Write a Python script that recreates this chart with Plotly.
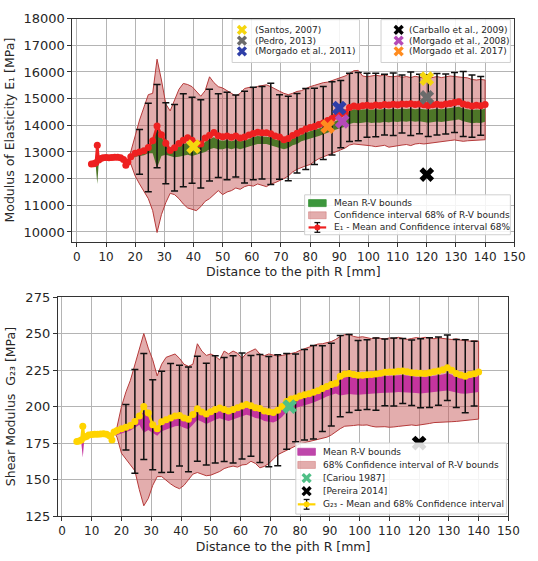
import plotly.graph_objects as go

W, H = 538, 561

# ---------------- data ----------------
X_EARLY = [5.0, 5.8, 6.5, 7.0, 7.5, 8.2, 9.0, 10.0, 11.0, 12.0, 13.0, 14.0, 15.0, 16.0, 16.8, 17.5]
X_MAIN = [18.5, 20.0, 21.5, 23.0, 24.5, 26.0, 27.5, 29.0, 30.5, 32.0,
          33.5, 35.0, 36.5, 38.0, 39.5, 41.0, 42.5, 44.0, 45.5, 47.0,
          48.5, 50.0, 51.5, 53.0, 54.5, 56.0, 57.5, 59.0, 60.5, 62.0,
          63.5, 65.0, 66.5, 68.0, 69.5, 71.0, 72.5, 74.0, 75.5, 77.0,
          78.5, 80.0, 81.5, 83.0, 84.5, 86.0, 87.5, 89.0, 90.5, 92.0,
          93.5, 95.0, 96.5, 98.0, 99.5, 101.0, 102.5, 104.0, 105.5, 107.0,
          108.5, 110.0, 111.5, 113.0, 114.5, 116.0, 117.5, 119.0, 120.5, 122.0,
          123.5, 125.0, 126.5, 128.0, 129.5, 131.0, 132.5, 134.0, 135.5, 137.0,
          138.5, 140.0]
X_ERR = [21.5, 24.5, 27.5, 30.5, 33.5, 36.5, 39.5, 42.5, 45.5, 48.5,
         51.5, 54.5, 57.5, 60.5, 63.5, 66.5, 69.5, 72.5, 75.5, 78.5,
         81.5, 84.5, 87.5, 90.5, 93.5, 96.5, 99.5, 102.5, 105.5, 108.5,
         111.5, 114.5, 117.5, 120.5, 123.5, 126.5, 129.5, 132.5, 135.5, 138.5]

# ---- E1 (top) ----
E1_MEAN_EARLY = [12550, 12560, 12600, 13250, 12700, 12760, 12780, 12790, 12780, 12790, 12800, 12800, 12780, 12720, 12500, 12620]
E1_RV_UP_EARLY = [12540, 12550, 12580, 12600, 12680, 12740, 12760, 12770, 12760, 12770, 12780, 12780, 12760, 12700, 12450, 12600]
E1_RV_LO_EARLY = [12480, 12480, 12450, 11800, 12600, 12700, 12720, 12730, 12720, 12730, 12740, 12740, 12720, 12600, 12380, 12560]
E1_MEAN = [12820, 12950, 13000, 13050, 13170, 13420, 13970, 13650, 13330, 13060,
           13160, 13320, 13440, 13530, 13440, 13320, 13300, 13520, 13630, 13730,
           13610, 13570, 13600, 13550, 13600, 13520, 13560, 13640, 13690, 13740,
           13720, 13720, 13680, 13600, 13560, 13460, 13510, 13620, 13700, 13780,
           13860, 13920, 13960, 14030, 14090, 14180, 14260, 14350, 14420, 14470,
           14670, 14720, 14700, 14730, 14750, 14720, 14760, 14740, 14780, 14760,
           14790, 14770, 14800, 14790, 14810, 14780, 14800, 14770, 14740, 14770,
           14790, 14760, 14800, 14820, 14860, 14880, 14800, 14760, 14720, 14750,
           14730, 14780]
E1_RV_UP = [12800, 12930, 12980, 13020, 13120, 13350, 13900, 13600, 13250, 13020,
            13100, 13200, 13300, 13350, 13300, 13200, 13200, 13380, 13480, 13550,
            13450, 13420, 13450, 13400, 13450, 13400, 13420, 13500, 13550, 13600,
            13580, 13580, 13550, 13470, 13430, 13350, 13400, 13500, 13580, 13650,
            13720, 13780, 13820, 13880, 13940, 14020, 14100, 14180, 14250, 14300,
            14550, 14600, 14580, 14590, 14600, 14580, 14600, 14590, 14610, 14600,
            14620, 14600, 14620, 14610, 14630, 14600, 14620, 14600, 14580, 14600,
            14620, 14600, 14630, 14650, 14680, 14700, 14630, 14600, 14570, 14590,
            14580, 14620]
E1_RV_LO = [12700, 12820, 12850, 12880, 12950, 12950, 12400, 12850, 12900, 12850,
            12800, 12820, 12850, 12900, 12850, 12900, 12950, 13000, 13100, 13150,
            13100, 13100, 13150, 13100, 13150, 13100, 13150, 13200, 13250, 13300,
            13300, 13300, 13250, 13200, 13150, 13100, 13150, 13250, 13300, 13400,
            13450, 13500, 13550, 13600, 13650, 13720, 13800, 13850, 13900, 13950,
            14050, 14100, 14080, 14100, 14120, 14090, 14110, 14100, 14130, 14110,
            14140, 14120, 14150, 14130, 14160, 14130, 14150, 14120, 14100, 14120,
            14140, 14120, 14150, 14170, 14200, 14220, 14150, 14110, 14080, 14100,
            14090, 14130]
E1_CI_UP = [13050, 13600, 14200, 14700, 15150, 15200, 16480, 15700, 14800, 14540,
            14970, 15350, 15570, 15530, 15450, 15250, 15090, 15300, 15820, 15600,
            15450, 15400, 15300, 15200, 15100, 15200, 15380, 15420, 15400, 15460,
            15480, 15520, 15450, 15350, 15280, 15200, 15150, 15200, 15270, 15300,
            15380, 15450, 15500, 15560, 15600, 15620, 15680, 15720, 15780, 15850,
            15950, 16050, 16060, 15850, 15820, 15860, 15880, 15850, 15900, 15830,
            15820, 15850, 15800, 15830, 15790, 15840, 15800, 15770, 15760, 15800,
            15830, 15790, 15810, 15850, 15830, 15820, 15800, 15780, 15720, 15700,
            15720, 15700]
E1_CI_LO = [12550, 12100, 11800, 11500, 11250, 10800, 9980, 10650, 11100, 11450,
            11400, 11250, 11050, 10900, 10850, 10800, 10950, 11150, 11250, 11400,
            11550, 11400, 11500, 11550, 11650, 11600, 11700, 11750, 11720, 11800,
            11750, 11700, 11800, 11850, 11920, 12000, 12100, 12250, 12350, 12420,
            12480, 12530, 12650, 12750, 12820, 12880, 12950, 13020, 13080, 13150,
            13260, 13300, 13280, 13260, 13250, 13230, 13200, 13220, 13250, 13180,
            13200, 13230, 13260, 13280, 13240, 13300, 13320, 13300, 13330, 13360,
            13380, 13400, 13410, 13430, 13450, 13420, 13400, 13420, 13440, 13460,
            13450, 13460]
E1_STD = [840, 1660, 1565, 1520, 1625, 1745, 1615, 1655, 1720, 1570,
          1645, 1540, 1720, 1735, 1735, 1900, 1585, 1585, 1490, 1520,
          1430, 1370, 1370, 1260, 1280, 1280, 1200, 1190, 1140, 1175,
          1085, 1190, 1115, 1155, 1155, 1125, 1125, 1215, 1170, 1100]

E1_REFS = [  # name, x values, y values, colour, legend box
    ("(Santos, 2007)", [40, 120], [13200, 15750], "#f5d60f", "legA"),
    ("(Pedro, 2013)", [120], [15050], "#6b6b6b", "legA"),
    ("(Morgado et al., 2011)", [90], [14650], "#2f3fa8", "legA"),
    ("(Carballo et al., 2009)", [120], [12150], "#000000", "legB"),
    ("(Morgado et al., 2008)", [91], [14150], "#b54ab8", "legB"),
    ("(Morgado et al. 2017)", [86], [13950], "#ff8c1f", "legB"),
]

# ---- G23 (bottom) ----
G_MEAN_EARLY = [176.0, 176.3, 177.0, 186.5, 179.0, 179.5, 180.5, 180.8, 181.0, 181.0, 181.2, 181.4, 181.0, 180.0, 177.0, 182.5]
G_RV_UP_EARLY = [175.8, 176.0, 176.5, 178.0, 178.5, 179.0, 180.0, 180.3, 180.5, 180.5, 180.7, 180.9, 180.5, 179.5, 176.5, 181.5]
G_RV_LO_EARLY = [175.0, 175.2, 175.0, 165.0, 177.5, 178.5, 179.5, 179.8, 180.0, 180.0, 180.2, 180.4, 180.0, 178.5, 175.5, 180.5]
G_MEAN = [183.5, 184.8, 185.8, 187.0, 189.8, 193.5, 200.0, 195.5, 187.5, 184.8,
          189.5, 191.0, 192.2, 193.5, 193.8, 192.2, 191.2, 194.5, 198.5, 196.3,
          194.8, 196.5, 198.0, 199.0, 198.0, 197.0, 198.0, 199.2, 200.3, 201.4,
          200.5, 199.2, 198.6, 197.0, 196.5, 195.9, 197.5, 200.0, 203.5, 205.2,
          205.9, 207.2, 208.0, 208.8, 209.8, 210.8, 212.3, 213.8, 215.0, 216.0,
          220.8, 222.3, 222.6, 222.0, 221.4, 221.4, 221.8, 222.0, 222.2, 222.8,
          223.4, 223.7, 223.6, 224.1, 224.3, 223.8, 223.1, 223.0, 222.8, 222.6,
          223.2, 223.8, 224.3, 225.2, 226.6, 224.8, 222.6, 221.6, 220.8, 222.0,
          222.5, 223.7]
G_RV_UP = [183.0, 184.3, 185.3, 186.5, 189.0, 192.5, 197.0, 194.0, 186.5, 184.0,
           188.0, 189.5, 190.7, 192.0, 192.3, 190.7, 189.7, 193.0, 197.0, 194.8,
           193.3, 195.0, 196.5, 197.5, 196.5, 195.5, 196.5, 197.7, 198.8, 199.9,
           199.0, 197.7, 197.1, 195.5, 195.0, 194.4, 196.0, 198.5, 201.5, 203.2,
           203.9, 205.2, 206.0, 206.8, 207.8, 208.8, 210.3, 211.8, 213.0, 214.0,
           218.5, 220.0, 220.5, 220.0, 219.6, 219.8, 220.0, 220.2, 220.4, 220.6,
           221.0, 221.2, 221.2, 221.5, 221.6, 221.2, 220.6, 220.4, 220.2, 220.2,
           220.6, 221.0, 221.4, 222.0, 222.8, 221.8, 220.0, 219.4, 218.8, 219.6,
           220.0, 220.8]
G_RV_LO = [180.5, 181.5, 182.5, 183.5, 185.5, 187.5, 182.0, 184.0, 182.0, 180.0,
           183.0, 184.5, 185.5, 186.5, 186.8, 185.5, 184.5, 187.5, 191.0, 189.5,
           188.0, 189.5, 191.0, 192.0, 191.0, 190.0, 191.0, 192.2, 193.3, 194.4,
           193.5, 192.2, 191.6, 190.0, 189.5, 189.0, 190.5, 193.0, 196.5, 198.2,
           198.9, 200.2, 201.0, 201.8, 202.8, 203.8, 205.3, 206.8, 208.0, 209.0,
           207.5, 208.0, 208.5, 208.2, 208.0, 208.3, 208.6, 208.8, 209.0, 209.3,
           209.5, 209.8, 209.6, 210.0, 210.2, 209.8, 209.4, 209.2, 209.0, 209.2,
           209.5, 209.8, 210.2, 210.6, 211.0, 210.4, 209.5, 209.0, 208.8, 209.2,
           209.5, 210.0]
G_CI_UP = [186.0, 200.0, 210.0, 218.0, 229.0, 240.0, 250.0, 240.0, 232.0, 221.0,
           229.0, 233.7, 235.0, 236.0, 233.0, 229.0, 227.5, 229.0, 243.0, 238.0,
           235.0, 236.0, 234.5, 232.0, 238.0, 236.0, 238.0, 236.5, 233.0, 236.5,
           238.0, 239.5, 236.0, 234.8, 236.0, 235.5, 234.5, 235.0, 235.5, 236.0,
           237.0, 238.5, 239.5, 241.0, 242.0, 242.8, 243.0, 243.6, 244.5, 246.0,
           248.0, 249.2, 249.5, 248.0, 247.4, 247.8, 247.0, 246.5, 247.2, 246.8,
           246.2, 247.0, 246.5, 247.4, 246.8, 246.0, 246.6, 247.2, 246.8, 247.4,
           247.0, 246.4, 247.0, 246.6, 246.2, 245.9, 246.4, 245.5, 245.2, 244.8,
           245.0, 244.8]
G_CI_LO = [179.0, 168.0, 164.0, 160.0, 156.0, 143.0, 132.0, 137.0, 146.0, 152.0,
           152.0, 149.7, 147.0, 145.0, 143.7, 146.0, 150.0, 153.7, 154.8, 153.5,
           152.6, 153.0, 154.0, 155.5, 157.5, 158.5, 159.2, 158.5, 160.0, 160.3,
           162.5, 161.0, 158.0, 159.0, 161.0, 164.0, 167.0, 169.0, 170.5, 171.5,
           173.0, 174.5, 175.0, 176.0, 176.5, 177.5, 178.2, 179.0, 180.5, 182.5,
           184.8, 186.5, 187.0, 187.0, 187.4, 187.2, 187.4, 186.5, 186.0, 185.9,
           186.2, 185.8, 186.0, 186.4, 187.0, 187.2, 187.4, 187.0, 187.6, 188.1,
           188.4, 189.0, 189.3, 189.7, 189.5, 189.6, 189.8, 190.0, 190.5, 190.8,
           191.0, 191.4]
G_STD = [15.5, 35.5, 36.3, 30.8, 34.7, 37.2, 34.5, 35.8, 36.0, 34.9,
         36.7, 35.6, 36.7, 36.3, 34.5, 37.0, 37.8, 38.0, 32.8, 30.0,
         31.0, 32.0, 29.4, 28.3, 27.8, 26.7, 23.9, 23.9, 24.7, 22.8,
         23.3, 22.3, 22.4, 23.7, 23.9, 23.4, 22.4, 23.3, 25.0, 22.2]

G_REFS = [
    ("[Cariou 1987]", [76.5], [200.0], "#4fbf86"),
    ("[Pereira 2014]", [120], [175.0], "#000000"),
]

# ---------------- styles ----------------
FONT = "DejaVu Sans"
TXT = "#262626"
PINK_FILL = "rgba(196,84,84,0.48)"
PINK_LINE = "#b53a3a"
GREEN = "rgb(78,118,40)"
GREEN_LEG = "rgb(60,150,60)"
MAGENTA = "rgb(196,52,158)"
MAGENTA_LEG = "rgb(190,70,170)"
RED = "#ee2020"
YELLOW = "#ffd400"

fig = go.Figure()


def add_panel(xa, ya, mean_e, up_e, lo_e, mean, rv_up, rv_lo, ci_up, ci_lo, std,
              band_col, mean_col):
    xs_all = X_EARLY + X_MAIN
    m_all = mean_e + mean
    # confidence band (opens out of the mean curve)
    bx = [X_EARLY[-1]] + X_MAIN + X_MAIN[::-1] + [X_EARLY[-1]]
    by = [mean_e[-1]] + ci_up + ci_lo[::-1] + [mean_e[-1]]
    fig.add_trace(go.Scatter(x=bx, y=by, xaxis=xa, yaxis=ya, mode="lines",
                             fill="toself", fillcolor=PINK_FILL,
                             line=dict(color=PINK_LINE, width=1),
                             showlegend=False, hoverinfo="skip"))
    # mean R-V bounds band
    up_all = up_e + rv_up
    lo_all = lo_e + rv_lo
    fig.add_trace(go.Scatter(x=xs_all + xs_all[::-1], y=up_all + lo_all[::-1],
                             xaxis=xa, yaxis=ya, mode="lines", fill="toself",
                             fillcolor=band_col, line=dict(width=0, color=band_col),
                             showlegend=False, hoverinfo="skip"))
    # error bars
    mean_at = dict(zip(X_MAIN, mean))
    fig.add_trace(go.Scatter(x=X_ERR, y=[mean_at[x] for x in X_ERR], xaxis=xa, yaxis=ya,
                             mode="markers", marker=dict(size=2, opacity=0),
                             error_y=dict(type="data", array=std, visible=True,
                                          color="#111111", thickness=1.5, width=3.5),
                             showlegend=False, hoverinfo="skip"))
    # mean curve
    fig.add_trace(go.Scatter(x=xs_all, y=m_all, xaxis=xa, yaxis=ya,
                             mode="lines+markers",
                             line=dict(color=mean_col, width=2.5),
                             marker=dict(color=mean_col, size=7, symbol="circle"),
                             showlegend=False))


add_panel("x", "y", E1_MEAN_EARLY, E1_RV_UP_EARLY, E1_RV_LO_EARLY, E1_MEAN,
          E1_RV_UP, E1_RV_LO, E1_CI_UP, E1_CI_LO, E1_STD, GREEN, RED)
for name, xs, ys, col, _ in E1_REFS:
    fig.add_trace(go.Scatter(x=xs, y=ys, xaxis="x", yaxis="y", mode="markers", name=name,
                             marker=dict(symbol="x", size=13, color=col, line=dict(width=0)),
                             showlegend=False))

add_panel("x2", "y2", G_MEAN_EARLY, G_RV_UP_EARLY, G_RV_LO_EARLY, G_MEAN,
          G_RV_UP, G_RV_LO, G_CI_UP, G_CI_LO, G_STD, MAGENTA, YELLOW)
for name, xs, ys, col in G_REFS:
    fig.add_trace(go.Scatter(x=xs, y=ys, xaxis="x2", yaxis="y2", mode="markers", name=name,
                             marker=dict(symbol="x", size=13, color=col, line=dict(width=0)),
                             showlegend=False))

# ---------------- hand-built legends (paper coordinates) ----------------
shapes, annots = [], []


def fx(p):
    return p / W


def fy(p):
    return 1 - p / H


def box(x0, y0, x1, y1):
    shapes.append(dict(type="rect", xref="paper", yref="paper", layer="above",
                       x0=fx(x0), x1=fx(x1), y0=fy(y1), y1=fy(y0),
                       fillcolor="rgba(255,255,255,0.85)",
                       line=dict(color="#d0d0d0", width=1)))


def seg(x0, y0, x1, y1, col, w):
    shapes.append(dict(type="line", xref="paper", yref="paper", layer="above",
                       x0=fx(x0), x1=fx(x1), y0=fy(y0), y1=fy(y1),
                       line=dict(color=col, width=w)))


def xglyph(cx, cy, col, r=4.0):
    seg(cx - r, cy - r, cx + r, cy + r, col, 3.4)
    seg(cx - r, cy + r, cx + r, cy - r, col, 3.4)


def swatch(x0, x1, cy, col, line=None):
    shapes.append(dict(type="rect", xref="paper", yref="paper", layer="above",
                       x0=fx(x0), x1=fx(x1), y0=fy(cy + 3.6), y1=fy(cy - 3.6),
                       fillcolor=col, line=dict(color=line or col, width=0.8)))


def errglyph(x0, x1, cy, col):
    cx = (x0 + x1) / 2
    seg(cx, cy - 5, cx, cy + 5, "#111111", 1.3)
    seg(cx - 3, cy - 5, cx + 3, cy - 5, "#111111", 1.3)
    seg(cx - 3, cy + 5, cx + 3, cy + 5, "#111111", 1.3)
    seg(x0, cy, x1, cy, col, 2.2)
    shapes.append(dict(type="circle", xref="paper", yref="paper", layer="above",
                       x0=fx(cx - 3), x1=fx(cx + 3), y0=fy(cy + 3), y1=fy(cy - 3),
                       fillcolor=col, line=dict(color=col, width=0)))


def label(x, y, text):
    annots.append(dict(xref="paper", yref="paper", x=fx(x), y=fy(y), text=text,
                       showarrow=False, xanchor="left", yanchor="middle",
                       font=dict(family=FONT, size=9, color=TXT)))


# top marker legends
box(237, 13, 367, 57)
box(389, 13, 521, 57)
rows_a = [r for r in E1_REFS if r[4] == "legA"]
rows_b = [r for r in E1_REFS if r[4] == "legB"]
for i, (name, _, _, col, _) in enumerate(rows_a):
    cy = 23.5 + 11 * i
    xglyph(247, cy, col)
    label(258, cy, name)
for i, (name, _, _, col, _) in enumerate(rows_b):
    cy = 23.5 + 11 * i
    xglyph(407, cy, col)
    label(415, cy, name)

# top bands legend
box(311, 193, 521, 234)
swatch(315, 333, 201.5, GREEN_LEG)
label(339, 201.5, "Mean R-V bounds")
swatch(315, 333, 214, PINK_FILL)
label(339, 214, "Confidence interval 68% of R-V bounds")
errglyph(315, 333, 226.5, RED)
label(339, 226.5, "E\u2081 - Mean and Confidence interval 68%")

# bottom legend
box(302, 448, 517, 521)
swatch(304, 322, 457, MAGENTA_LEG)
label(328, 457, "Mean R-V bounds")
swatch(304, 322, 470.5, PINK_FILL)
label(328, 470.5, "68% Confidence interval of R-V bounds")
for i, (name, _, _, col) in enumerate(G_REFS):
    cy = 484 + 13.5 * i
    xglyph(313, cy, col)
    label(328, cy, name)
errglyph(304, 322, 511, YELLOW)
label(328, 511, "G\u2082\u2083 - Mean and 68% Confidence interval")

# ---------------- axes ----------------
axis_common = dict(showgrid=True, gridcolor="#b4b4b4", gridwidth=0.8, zeroline=False,
                   showline=True, mirror=True, linecolor="#333333", linewidth=1,
                   ticks="outside", ticklen=4, tickcolor="#333333")

fig.update_layout(
    width=W, height=H,
    margin=dict(l=0, r=0, t=0, b=0),
    paper_bgcolor="white", plot_bgcolor="white",
    font=dict(family=FONT, color=TXT),
    showlegend=False,
    shapes=shapes, annotations=annots,
    xaxis=dict(domain=[74 / W, 525 / W], range=[-1.5, 150], dtick=10, tick0=0,
               anchor="y", tickfont=dict(size=12),
               title=dict(text="Distance to the pith R [mm]", font=dict(size=12.5), standoff=4),
               **axis_common),
    yaxis=dict(domain=[1 - 241 / H, 1 - 12 / H], range=[9640, 18000], dtick=1000, tick0=0,
               tickformat="d", anchor="x", tickfont=dict(size=13),
               title=dict(text="Modulus of Elasticity E\u2081 [MPa]", font=dict(size=12.5),
                          standoff=6),
               **axis_common),
    xaxis2=dict(domain=[59 / W, 519 / W], range=[-1.4, 150], dtick=10, tick0=0,
                anchor="y2", tickfont=dict(size=12),
                title=dict(text="Distance to the pith R [mm]", font=dict(size=12.5), standoff=4),
                **axis_common),
    yaxis2=dict(domain=[1 - 523 / H, 1 - 298 / H], range=[125, 275], dtick=25, tick0=0,
                anchor="x2", tickfont=dict(size=13),
                title=dict(text="Shear Modulus  G\u2082\u2083 [MPa]", font=dict(size=12.5),
                           standoff=6),
                **axis_common),
)

fig.write_html("out.html", config={"displayModeBar": False},
               post_script="document.body.style.margin='0';document.body.style.overflow='hidden';")
